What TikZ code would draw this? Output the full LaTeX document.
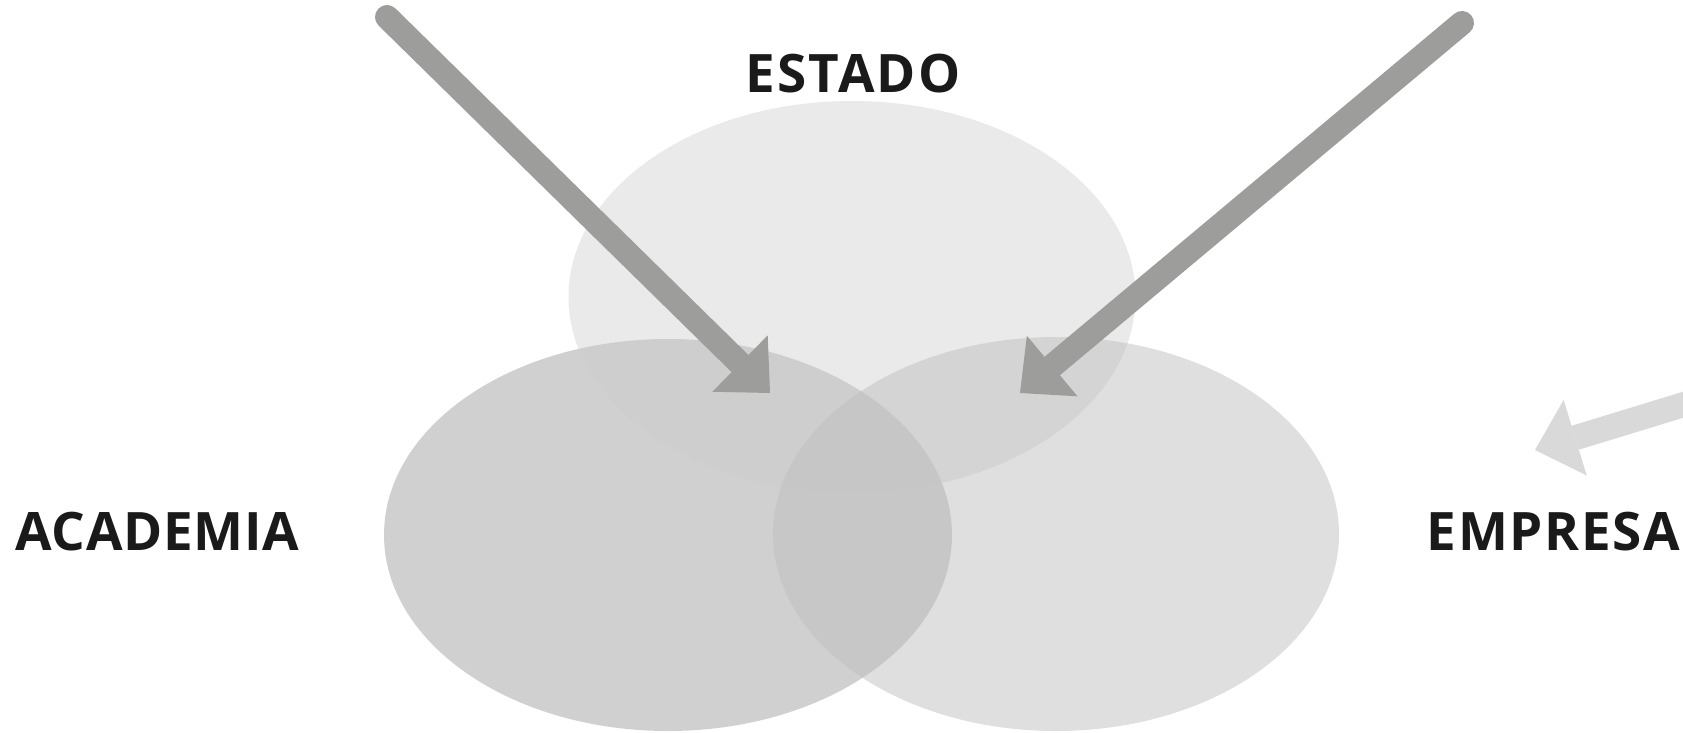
\documentclass[tikz,border=0pt]{standalone}
\usepackage{fontspec}
\setmainfont{Open Sans}
\newfontfamily\estadofont{Open Sans}[LetterSpace=4]
\newfontfamily\academiafont{Open Sans}[LetterSpace=1.5]
\newfontfamily\empresafont{Open Sans}[LetterSpace=3]
\usetikzlibrary{arrows.meta}
\definecolor{arrowgray}{RGB}{157,157,156}
\definecolor{lightarrow}{RGB}{217,217,217}
\definecolor{topfill}{RGB}{234,234,234}
\definecolor{leftfill}{RGB}{204,204,204}
\definecolor{rightfill}{RGB}{190,190,190}
\definecolor{labeltext}{RGB}{26,26,26}
\begin{document}
\begin{tikzpicture}[x=1pt,y=-1pt,
  lbl/.style={font=\fontsize{53}{53}\selectfont\bfseries, text=labeltext, inner sep=0pt},
  bigarrow/.style={draw=arrowgray, line width=24pt, line cap=round,
    -{Triangle[length=42pt,width=79pt,line width=0pt]}},
  edgearrow/.style={draw=lightarrow, line width=25pt,
    -{Triangle[length=42pt,width=79pt,line width=0pt]}}]
\useasboundingbox (0,0) rectangle (1683,733);
\clip (0,0) rectangle (1683,733);
\fill[white] (0,0) rectangle (1683,733);
% ellipses
\fill[topfill] (852,297) ellipse [x radius=283.5, y radius=196];
\fill[leftfill, opacity=0.905] (668,535) ellipse [x radius=284, y radius=196];
\fill[rightfill, opacity=0.48] (1056,534) ellipse [x radius=283, y radius=197];
% labels
\node[lbl, anchor=base] (estado) at (853,93) {\estadofont\bfseries ESTADO};
\node[lbl, anchor=base west] (academia) at (15,550) {\academiafont\bfseries ACADEMIA};
\node[lbl, anchor=base east] (empresa) at (1680,550) {\empresafont\bfseries EMPRESA};
% arrows
\coordinate (a1s) at (387,17);
\coordinate (a1t) at (770,393);
\coordinate (a2s) at (1462,23);
\coordinate (a2t) at (1020,393);
\coordinate (a3s) at (1738,388);
\coordinate (a3t) at (1535,450);
\draw[bigarrow] (a1s) -- (a1t);
\draw[bigarrow] (a2s) -- (a2t);
\draw[edgearrow] (a3s) -- (a3t);
\end{tikzpicture}
\end{document}
